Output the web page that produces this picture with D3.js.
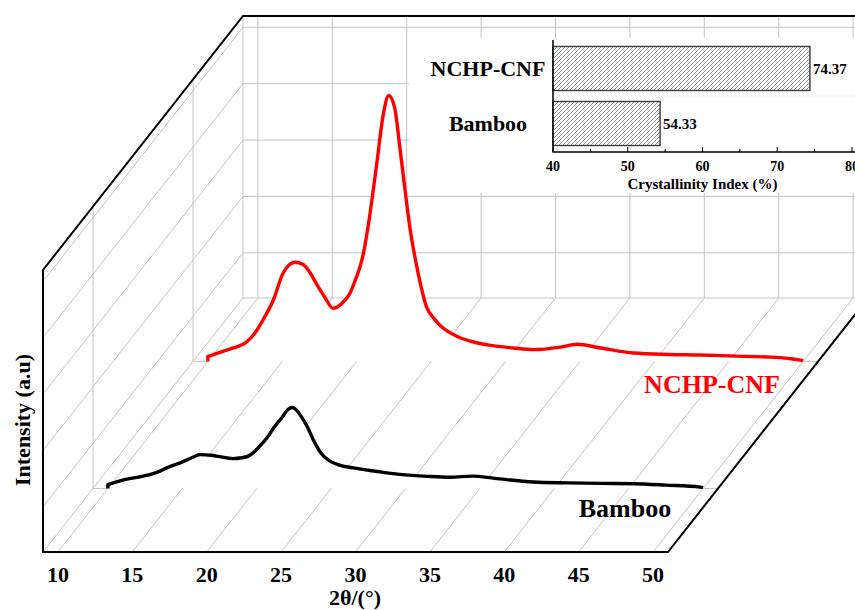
<!DOCTYPE html>
<html>
<head>
<meta charset="utf-8">
<script src="https://cdn.jsdelivr.net/npm/d3@7"></script>
<style>
body { margin: 0; background: #fff; }
text { font-family: "Liberation Serif", "Times New Roman", serif; font-weight: bold; }
</style>
</head>
<body>
<svg class="chart"></svg>
<script>
// Data
var xTicks = [10, 15, 20, 25, 30, 35, 40, 45, 50];
var gridLevels = [800, 1800, 2800, 3800, 4800];
var seriesNames = ["Bamboo", "NCHP-CNF"];
var seriesColors = ["#000000", "#ff0000"];

var bambooTheta = [10.0, 11.0, 12.2, 13.3, 14.0, 14.9, 15.6, 16.2, 16.9, 17.5, 18.4, 19.0, 19.4, 19.8, 20.3, 20.7, 21.1, 21.7, 22.1, 22.4, 22.7, 23.0, 23.4, 23.8, 24.3, 24.9, 25.5, 26.5, 28.0, 29.6, 31.5, 33.0, 34.5, 36.0, 38.6, 40.9, 43.1, 45.3, 47.5, 49.8, 50.0];
var bambooIntensity = [70, 150, 210, 285, 370, 460, 540, 600, 590, 565, 530, 545, 570, 640, 780, 900, 1060, 1260, 1400, 1435, 1380, 1275, 1095, 865, 635, 490, 420, 365, 305, 250, 215, 200, 220, 180, 115, 100, 90, 85, 60, 25, 15];

var nchpTheta = [10.0, 11.0, 11.7, 12.6, 13.2, 13.7, 14.4, 15.05, 15.85, 16.4, 16.9, 17.4, 17.9, 18.4, 19.0, 19.55, 19.9, 20.4, 20.9, 21.35, 21.8, 22.15, 22.55, 22.9, 23.25, 23.6, 24.05, 24.7, 25.2, 25.6, 26.1, 26.8, 27.8, 29.0, 30.5, 31.9, 33.7, 34.8, 36.4, 38.6, 41.0, 43.1, 45.5, 47.6, 49.0, 49.8, 50.0];
var nchpIntensity = [90, 180, 240, 345, 520, 735, 1090, 1565, 1760, 1720, 1560, 1330, 1120, 945, 1030, 1210, 1440, 1850, 2630, 3510, 4400, 4715, 4500, 3800, 3035, 2330, 1670, 965, 760, 640, 540, 440, 350, 285, 240, 210, 255, 305, 240, 150, 125, 115, 95, 80, 55, 25, 10];

var ciNames = ["NCHP-CNF", "Bamboo"];
var ciValues = [74.37, 54.33];
var ciTicks = [40, 50, 60, 70, 80];
var ciMinorTicks = [45, 55, 65, 75];

var width = 855, height = 610;
var depthVec = { x: 200, y: -254 }; // screen offset from front to back plane
var floorY = 552;

var svg = d3.select(".chart")
    .attr("width", width)
    .attr("height", height);

var defs = svg.append("defs");
defs.append("pattern")
    .attr("id", "hatch")
    .attr("patternUnits", "userSpaceOnUse")
    .attr("width", 4)
    .attr("height", 4)
    .append("path")
    .attr("d", "M-1,1 l2,-2 M0,4 l4,-4 M3,5 l2,-2")
    .attr("stroke", "#7a7a7a")
    .attr("stroke-width", 0.8);

// Scales
var x = d3.scaleLinear().domain([9, 51]).range([43, 668]);
var z = d3.scaleLinear().domain([0, 5000]).range([0, 282]);
var depth = d3.scalePoint().domain(seriesNames).range([0, 1]).padding(0.5);

function px(t, d) { return x(t) + depthVec.x * d; }
function py(v, d) { return floorY + depthVec.y * d - z(v); }

var xMin = x.domain()[0], xMax = x.domain()[1], zMax = z.domain()[1];
var grid = svg.append("g")
    .attr("fill", "none")
    .attr("stroke", "#c4c4c4")
    .attr("stroke-width", 1);

function seg(g, x1, y1, x2, y2) {
    g.append("line")
        .attr("x1", x1).attr("y1", y1)
        .attr("x2", x2).attr("y2", y2);
}

// Back wall grid
xTicks.forEach(function (t) {
    seg(grid, px(t, 1), py(zMax, 1), px(t, 1), py(0, 1));
});
gridLevels.forEach(function (v) {
    seg(grid, px(xMin, 1), py(v, 1), px(xMax, 1), py(v, 1));
});
seg(grid, px(xMin, 1), py(0, 1), px(xMax, 1), py(0, 1));
seg(grid, px(xMin, 1), py(zMax, 1), px(xMin, 1), py(0, 1));

// Left wall grid
gridLevels.forEach(function (v) {
    seg(grid, px(xMin, 0), py(v, 0), px(xMin, 1), py(v, 1));
});
seriesNames.forEach(function (s) {
    var d = depth(s);
    seg(grid, px(xMin, d), py(zMax, d), px(xMin, d), py(0, d));
});

// Floor lines, split between the series planes
var floorX = [xMin].concat(xTicks);
var stops = [0].concat(seriesNames.map(depth)).concat([1]);

function floorSegments(d0, d1) {
    var g = svg.append("g")
        .attr("stroke", "#c4c4c4")
        .attr("stroke-width", 1);
    floorX.forEach(function (t) {
        seg(g, px(t, d0), py(0, d0), px(t, d1), py(0, d1));
    });
}

function drawSeries(i) {
    var name = seriesNames[i];
    var d = depth(name);
    var thetas = i === 0 ? bambooTheta : nchpTheta;
    var vals = i === 0 ? bambooIntensity : nchpIntensity;
    var pts = thetas.map(function (t, k) { return { t: t, v: vals[k] }; });
    var base = py(0, d);

    var area = d3.area()
        .x(function (p) { return px(p.t, d); })
        .y0(base)
        .y1(function (p) { return py(p.v, d); })
        .curve(d3.curveMonotoneX);
    var line = d3.line()
        .x(function (p) { return px(p.t, d); })
        .y(function (p) { return py(p.v, d); })
        .curve(d3.curveMonotoneX);

    // white fill hides whatever lies behind the curve
    svg.append("path")
        .attr("d", area(pts))
        .attr("fill", "#fff");

    // stubs of the plane baseline outside the data range
    var stub = svg.append("g").attr("stroke", "#c4c4c4").attr("stroke-width", 1);
    seg(stub, px(xMin, d), base, px(thetas[0], d), base);
    seg(stub, px(thetas[thetas.length - 1], d), base, px(xMax, d), base);

    svg.append("path")
        .attr("d", "M" + px(thetas[0], d) + "," + base + "L" + line(pts).slice(1))
        .attr("fill", "none")
        .attr("stroke", seriesColors[i])
        .attr("stroke-width", 3.4)
        .attr("stroke-linejoin", "round");
}

// back to front
floorSegments(stops[2], stops[3]);
drawSeries(1);
floorSegments(stops[1], stops[2]);
drawSeries(0);
floorSegments(stops[0], stops[1]);

// Box frame
svg.append("path")
    .attr("d", "M" + px(xMax, 1) + "," + py(zMax, 1) +
        "L" + px(xMin, 1) + "," + py(zMax, 1) +
        "L" + px(xMin, 0) + "," + py(zMax, 0) +
        "L" + px(xMin, 0) + "," + py(0, 0) +
        "L" + px(xMax, 0) + "," + py(0, 0) +
        "L" + px(xMax, 1) + "," + py(0, 1))
    .attr("fill", "none")
    .attr("stroke", "#000")
    .attr("stroke-width", 2);

// X tick labels
svg.append("g")
    .selectAll("text")
    .data(xTicks)
    .enter().append("text")
    .attr("x", function (t) { return x(t); })
    .attr("y", 582)
    .attr("text-anchor", "middle")
    .attr("font-size", 22)
    .text(function (t) { return t; });

svg.append("text")
    .attr("x", 355)
    .attr("y", 605)
    .attr("text-anchor", "middle")
    .attr("font-size", 22)
    .text("2θ/(°)");

svg.append("text")
    .attr("transform", "translate(30,420) rotate(-90)")
    .attr("text-anchor", "middle")
    .attr("font-size", 22)
    .text("Intensity (a.u)");

// Series labels
svg.append("text")
    .attr("x", 712)
    .attr("y", 393)
    .attr("text-anchor", "middle")
    .attr("font-size", 26)
    .attr("fill", seriesColors[1])
    .text(seriesNames[1]);

svg.append("text")
    .attr("x", 625)
    .attr("y", 517)
    .attr("text-anchor", "middle")
    .attr("font-size", 26)
    .attr("fill", seriesColors[0])
    .text(seriesNames[0]);

// Inset: crystallinity index
var xi = d3.scaleLinear().domain([40, 80]).range([553, 852]);
var yi = d3.scaleBand().domain(ciNames).range([40, 152])
    .paddingInner(0.2).paddingOuter(0.118);

var inset = svg.append("g");
inset.append("rect")
    .attr("x", 409).attr("y", 38)
    .attr("width", width - 409).attr("height", 155)
    .attr("fill", "#fff");

var gapY = (yi(ciNames[0]) + yi.bandwidth() + yi(ciNames[1])) / 2;
inset.append("line")
    .attr("x1", xi(40)).attr("x2", width)
    .attr("y1", gapY).attr("y2", gapY)
    .attr("stroke", "#d8d8d8")
    .attr("stroke-dasharray", "1,2");

inset.selectAll(".bar")
    .data(ciNames)
    .enter().append("rect")
    .attr("class", "bar")
    .attr("x", xi(40))
    .attr("y", function (n) { return yi(n); })
    .attr("width", function (n, k) { return xi(ciValues[k]) - xi(40); })
    .attr("height", yi.bandwidth())
    .attr("fill", "url(#hatch)")
    .attr("stroke", "#3a3a3a")
    .attr("stroke-width", 1.4);

inset.selectAll(".val")
    .data(ciNames)
    .enter().append("text")
    .attr("class", "val")
    .attr("x", function (n, k) { return xi(ciValues[k]) + 3; })
    .attr("y", function (n) { return yi(n) + yi.bandwidth() / 2 + 5.5; })
    .attr("font-size", 15)
    .text(function (n, k) { return ciValues[k].toFixed(2); });

inset.selectAll(".cat")
    .data(ciNames)
    .enter().append("text")
    .attr("class", "cat")
    .attr("x", 488)
    .attr("y", function (n) { return yi(n) + yi.bandwidth() / 2 + 7.5; })
    .attr("text-anchor", "middle")
    .attr("font-size", 22)
    .text(function (n) { return n; });

// inset axes
inset.append("path")
    .attr("d", "M" + xi(40) + ",40V152H" + width)
    .attr("fill", "none")
    .attr("stroke", "#000")
    .attr("stroke-width", 1.5);

inset.selectAll(".tk")
    .data(ciTicks)
    .enter().append("line")
    .attr("x1", function (v) { return xi(v); })
    .attr("x2", function (v) { return xi(v); })
    .attr("y1", 152).attr("y2", 147)
    .attr("stroke", "#000");

inset.selectAll(".mtk")
    .data(ciMinorTicks)
    .enter().append("line")
    .attr("x1", function (v) { return xi(v); })
    .attr("x2", function (v) { return xi(v); })
    .attr("y1", 152).attr("y2", 149)
    .attr("stroke", "#000");

inset.selectAll(".tl")
    .data(ciTicks)
    .enter().append("text")
    .attr("x", function (v) { return xi(v); })
    .attr("y", 171)
    .attr("text-anchor", "middle")
    .attr("font-size", 14)
    .text(function (v) { return v; });

inset.append("text")
    .attr("x", xi(60))
    .attr("y", 189)
    .attr("text-anchor", "middle")
    .attr("font-size", 15)
    .text("Crystallinity Index (%)");
</script>
</body>
</html>
